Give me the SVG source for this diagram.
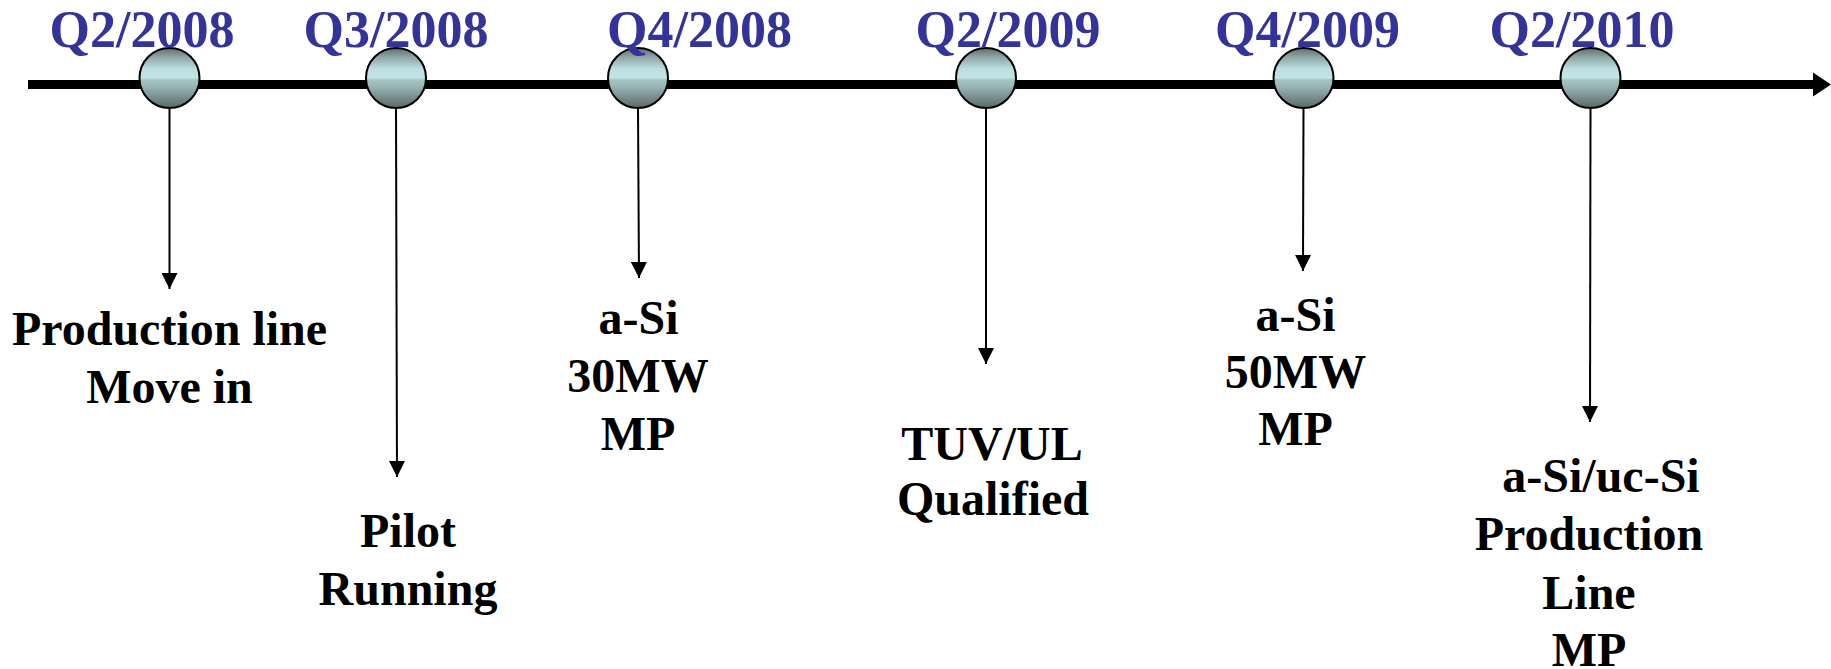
<svg xmlns="http://www.w3.org/2000/svg" width="1831" height="669" viewBox="0 0 1831 669">
  <defs>
    <linearGradient id="ball" x1="0" y1="0" x2="0" y2="1">
      <stop offset="0" stop-color="#5f6f6f"/>
      <stop offset="0.15" stop-color="#8ea4a4"/>
      <stop offset="0.35" stop-color="#bcdfe1"/>
      <stop offset="0.5" stop-color="#c2e4e6"/>
      <stop offset="0.53" stop-color="#a6c3c4"/>
      <stop offset="0.62" stop-color="#9cb9ba"/>
      <stop offset="1" stop-color="#5a6868"/>
    </linearGradient>
    <marker id="ah" viewBox="0 0 16 16" refX="16" refY="8" markerWidth="16" markerHeight="16" markerUnits="userSpaceOnUse" orient="auto">
      <path d="M0,0 L16,8 L0,16 Z" fill="#000"/>
    </marker>
    <style>
      .date { font-family: "Liberation Serif", "Times New Roman", serif; font-weight: bold; font-size: 52px; fill: #333399; text-anchor: middle; }
      .lbl { font-family: "Liberation Serif", "Times New Roman", serif; font-weight: bold; font-size: 48px; fill: #000; text-anchor: middle; }
      .ball { fill: url(#ball); stroke: #000; stroke-width: 2; }
      .conn { stroke: #000; stroke-width: 2; fill: none; marker-end: url(#ah); }
    </style>
  </defs>
  <rect width="1831" height="669" fill="#fff"/>

  <g id="axis">
    <line x1="28" y1="84.5" x2="1815" y2="84.5" stroke="#000" stroke-width="9"/>
    <polygon points="1813,72.5 1831,84.5 1813,96.5" fill="#000"/>
  </g>

  <g id="connectors">
    <line class="conn" x1="169.5" y1="108" x2="169.5" y2="289"/>
    <line class="conn" x1="396" y1="108" x2="397" y2="477"/>
    <line class="conn" x1="638" y1="108" x2="639" y2="278"/>
    <line class="conn" x1="986" y1="108" x2="986" y2="364"/>
    <line class="conn" x1="1303.5" y1="108" x2="1303" y2="271"/>
    <line class="conn" x1="1590.5" y1="108" x2="1590" y2="422"/>
  </g>

  <g id="node-q2-2008">
    <circle class="ball" cx="169.5" cy="78" r="30"/>
    <text class="date" x="142" y="47">Q2/2008</text>
    <text class="lbl" x="169.5" y="345">Production line</text>
    <text class="lbl" x="169.5" y="403">Move in</text>
  </g>

  <g id="node-q3-2008">
    <circle class="ball" cx="396" cy="78" r="30"/>
    <text class="date" x="396" y="47">Q3/2008</text>
    <text class="lbl" x="408" y="547">Pilot</text>
    <text class="lbl" x="408" y="605">Running</text>
  </g>

  <g id="node-q4-2008">
    <circle class="ball" cx="638" cy="78" r="30"/>
    <text class="date" x="699.5" y="47">Q4/2008</text>
    <text class="lbl" x="638.5" y="334">a-Si</text>
    <text class="lbl" x="638" y="392">30MW</text>
    <text class="lbl" x="638" y="450">MP</text>
  </g>

  <g id="node-q2-2009">
    <circle class="ball" cx="986" cy="78" r="30"/>
    <text class="date" x="1008" y="47">Q2/2009</text>
    <text class="lbl" x="992" y="460">TUV/UL</text>
    <text class="lbl" x="993" y="515">Qualified</text>
  </g>

  <g id="node-q4-2009">
    <circle class="ball" cx="1303.5" cy="78" r="30"/>
    <text class="date" x="1307.5" y="47">Q4/2009</text>
    <text class="lbl" x="1295.5" y="331">a-Si</text>
    <text class="lbl" x="1295.5" y="388">50MW</text>
    <text class="lbl" x="1295.5" y="445">MP</text>
  </g>

  <g id="node-q2-2010">
    <circle class="ball" cx="1590.5" cy="78" r="30"/>
    <text class="date" x="1582" y="47">Q2/2010</text>
    <text class="lbl" x="1601" y="492">a-Si/uc-Si</text>
    <text class="lbl" x="1589" y="550">Production</text>
    <text class="lbl" x="1589" y="609">Line</text>
    <text class="lbl" x="1589" y="666">MP</text>
  </g>
</svg>
